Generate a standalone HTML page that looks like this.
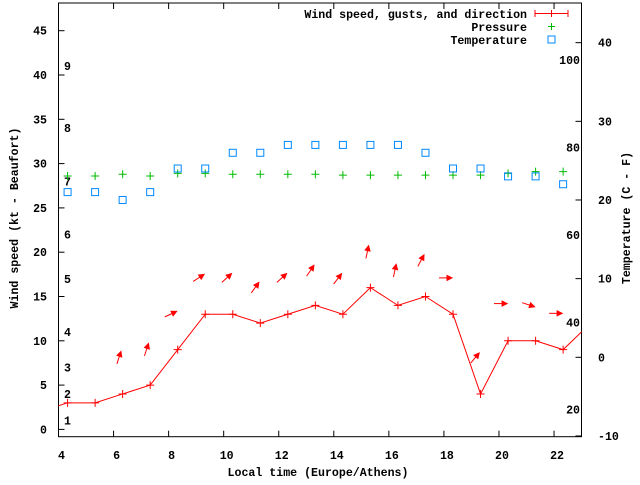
<!DOCTYPE html>
<html><head><meta charset="utf-8"><style>
html,body{margin:0;padding:0;background:#fff;}
svg text{font-family:"Liberation Mono",monospace;font-weight:bold;font-size:11.6px;fill:#000;}
</style></head><body>
<svg id="chart" width="640" height="480" xmlns="http://www.w3.org/2000/svg">
<g id="axes"></g>
<g id="series"></g>
<g id="legend">
<text x="527" y="18" text-anchor="end">Wind speed, gusts, and direction</text>
<g stroke="#f00" stroke-width="1"><line x1="535" y1="13.5" x2="568" y2="13.5"/><line x1="535" y1="10" x2="535" y2="17"/><line x1="568" y1="10" x2="568" y2="17"/><line x1="551.5" y1="10" x2="551.5" y2="17"/></g>
<text x="527" y="31" text-anchor="end">Pressure</text>
<g stroke="#0b0"><line x1="548" y1="26.5" x2="555" y2="26.5"/><line x1="551.5" y1="23" x2="551.5" y2="30"/></g>
<text x="527" y="44" text-anchor="end">Temperature</text>
<rect x="548" y="36" width="7" height="7" fill="none" stroke="#08f"/>
</g>
</svg>
<script>
const times=[4.33,5.33,6.33,7.33,8.33,9.33,10.33,11.33,12.33,13.33,14.33,15.33,16.33,17.33,18.33,19.33,20.33,21.33,22.33];
const windSpeed=[3,3,4,5,9,13,13,12,13,14,13,16,14,15,13,4,10,10,9];
const windEdgeTimes=[3.33,23.33];
const windEdgeValues=[2,12];
const arrowValue=[null,null,7.4,8.3,12.7,16.7,16.6,15.4,16.6,17.3,16.4,19.3,17.2,18.4,17.1,7.5,14.2,14.3,13.1];
const arrowAngle=[null,null,72,72,25,33,42,54,42,56,53,78,78,62,0,50,0,-18,0];
const pressure=[28.6,28.6,28.8,28.6,28.9,28.9,28.8,28.8,28.8,28.8,28.7,28.7,28.7,28.7,28.7,28.7,28.9,29.1,29.1];
const temperature=[21,21,20,21,24,24,26,26,27,27,27,27,27,26,24,24,23,23,22];
const xTicks=[4,6,8,10,12,14,16,18,20,22];
const yTicks=[0,5,10,15,20,25,30,35,40,45];
const cTicks=[-10,0,10,20,30,40];
const fLabels=[20,40,60,80,100];
const beaufortLabels=[1,2,3,4,5,6,7,8,9];
const beaufortKnots=[1,4,7,11,17,22,28,34,41];

const X0=58.5,X1=581.5,Y0=436.7,Y1=3;
const xs=t=>X0+(t-4)*27.53;
const ys=v=>429.4-v*8.86;
const yc=c=>357.3-c*7.866;
const NS='http://www.w3.org/2000/svg';
function mk(tag,attrs,parent){const e=document.createElementNS(NS,tag);for(const k in attrs)e.setAttribute(k,attrs[k]);parent.appendChild(e);return e;}
const axes=document.getElementById('axes'),ser=document.getElementById('series');

let fr=mk('rect',{x:X0,y:Y1,width:X1-X0,height:Y0-Y1,fill:'none',stroke:'#000'},axes);


xTicks.forEach(t=>{const x=xs(t);
 let l=mk('line',{x1:x,y1:Y0,x2:x,y2:Y0-6,stroke:'#000'},axes);
 
 
 let l2=mk('line',{x1:x,y1:Y1,x2:x,y2:Y1+6,stroke:'#000'},axes);
 
 
 let tx=mk('text',{x:x+3,y:459,'text-anchor':'middle'},axes);tx.textContent=t;
 
 });
yTicks.forEach(v=>{const y=ys(v);
 let l=mk('line',{x1:X0,y1:y,x2:X0+6,y2:y,stroke:'#000'},axes);
 
 
 let tx=mk('text',{x:47,y:y+4,'text-anchor':'end'},axes);tx.textContent=v;
 
 });
cTicks.forEach(c=>{const y=yc(c);
 let l=mk('line',{x1:X1,y1:y,x2:X1-6,y2:y,stroke:'#000'},axes);
 
 
 let tx=mk('text',{x:598,y:y+4},axes);tx.textContent=c;
 
 });
fLabels.forEach(f=>{const y=yc((f-32)/1.8);
 let tx=mk('text',{x:580,y:y+4,'text-anchor':'end'},axes);tx.textContent=f;
 
 });
beaufortLabels.forEach((b,i)=>{const y=ys(beaufortKnots[i]);
 let tx=mk('text',{x:64,y:y+4},axes);tx.textContent=b;
 
 });
let xt=mk('text',{x:318,y:476,'text-anchor':'middle'},axes);xt.textContent='Local time (Europe/Athens)';


let yt=mk('text',{x:0,y:0,'text-anchor':'middle',transform:'translate(18,218) rotate(-90)'},axes);yt.textContent='Wind speed (kt - Beaufort)';


let y2t=mk('text',{x:0,y:0,'text-anchor':'middle',transform:'translate(630,218) rotate(-90)'},axes);y2t.textContent='Temperature (C - F)';



// clip
const defs=mk('defs',{},ser);const cp=mk('clipPath',{id:'clip'},defs);mk('rect',{x:X0,y:Y1,width:X1-X0,height:Y0-Y1},cp);
const g=mk('g',{'clip-path':'url(#clip)'},ser);

// pressure
times.forEach((t,i)=>{const x=xs(t),y=ys(pressure[i]);
 let p=mk('path',{d:`M${x-4} ${y}H${x+4}M${x} ${y-4}V${y+4}`,stroke:'#0b0',fill:'none'},g);
 
 });
// temperature
times.forEach((t,i)=>{const x=xs(t),y=yc(temperature[i]);
 let r=mk('rect',{x:x-3.5,y:y-3.5,width:7,height:7,fill:'none',stroke:'#08f'},g);
 
 });
// wind line
const pts=[[windEdgeTimes[0],windEdgeValues[0]]].concat(times.map((t,i)=>[t,windSpeed[i]]),[[windEdgeTimes[1],windEdgeValues[1]]]);
let wl=mk('polyline',{points:pts.map(p=>xs(p[0])+','+ys(p[1])).join(' '),fill:'none',stroke:'#f00'},g);


times.forEach((t,i)=>{const x=xs(t),y=ys(windSpeed[i]);
 let p=mk('path',{d:`M${x-4} ${y}H${x+4}M${x} ${y-4}V${y+4}`,stroke:'#f00',fill:'none'},g);
 
 });
// arrows
times.forEach((t,i)=>{if(arrowValue[i]==null)return;
 const a=arrowAngle[i]*Math.PI/180,c=Math.cos(a),s=Math.sin(a);
 const tx0=xs(t)-2-12*c,ty0=ys(arrowValue[i]);
 const tx1=tx0+13*c,ty1=ty0-13*s;
 const bx=tx1-5*c,by=ty1+5*s;
 let ar=mk('g',{},g);
 
 
 mk('line',{x1:tx0,y1:ty0,x2:tx1,y2:ty1,stroke:'#f00'},ar);
 mk('polygon',{points:`${tx1},${ty1} ${bx-2.5*s},${by-2.5*c} ${bx+2.5*s},${by+2.5*c}`,fill:'#f00',stroke:'#f00'},ar);});
</script>
</body></html>
